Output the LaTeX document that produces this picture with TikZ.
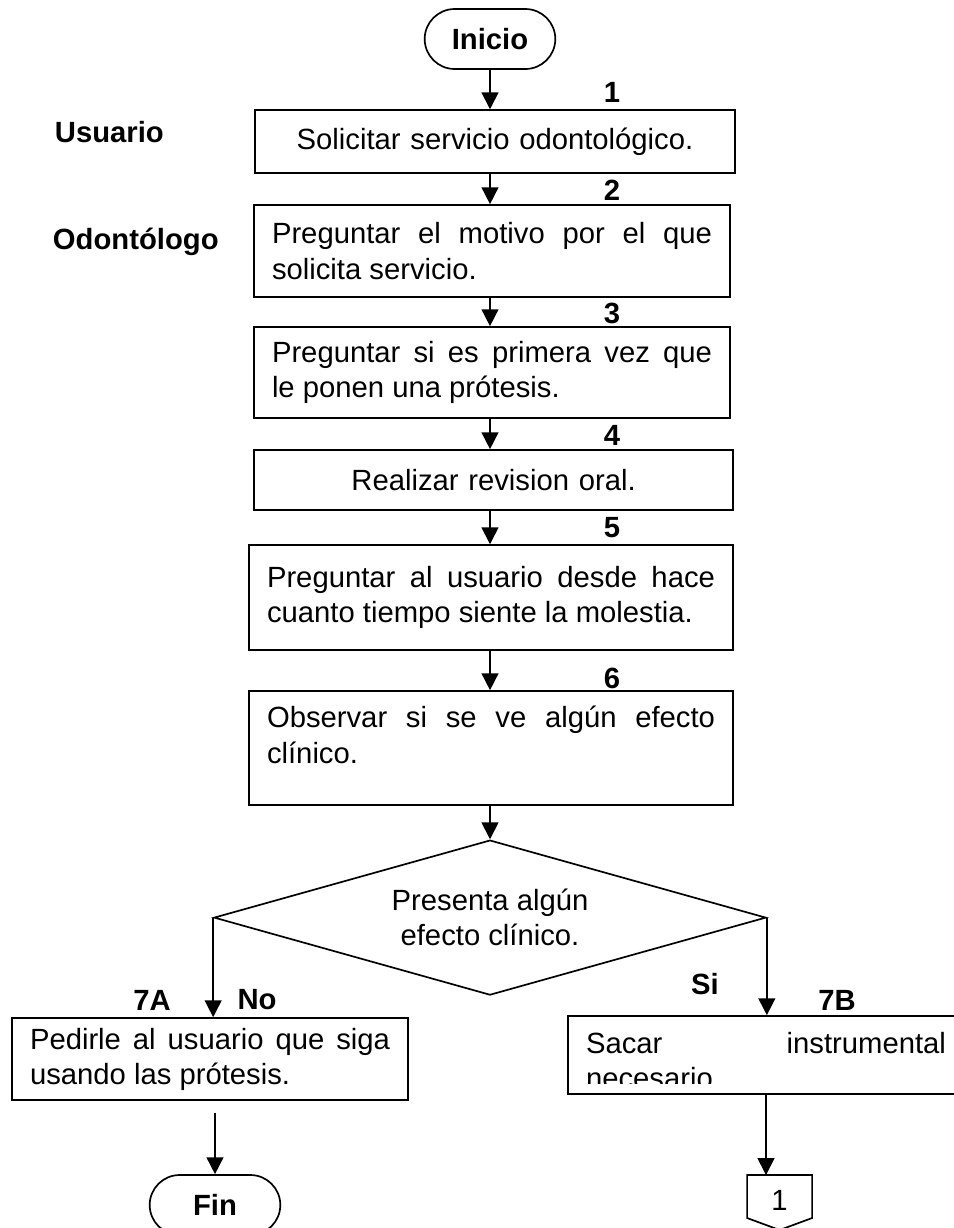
\documentclass[tikz,border=0pt]{standalone}
\usepackage{fontspec}
\setmainfont{Liberation Sans}
\usetikzlibrary{shapes,arrows.meta}
\hyphenpenalty=10000
\exhyphenpenalty=10000

\begin{document}
\begin{tikzpicture}[
  every node/.style={font=\fontsize{20.8}{25}\selectfont},
  caja/.style={draw, line width=1.2pt, inner xsep=0.45cm, inner ysep=0pt, align=justify},
  terminal/.style={draw, line width=1.2pt, rounded rectangle, minimum width=3.5cm, minimum height=1.5cm, font=\fontsize{20.8}{25}\selectfont\bfseries},
  paso/.style={font=\fontsize{20.8}{25}\selectfont\bfseries},
  flecha/.style={line width=1.2pt, -{Triangle[length=0.42cm,width=0.42cm]}}
]
\useasboundingbox (0,0) rectangle (23.85,-30.7);
\clip (0,0) rectangle (23.85,-30.7);

\node[terminal] (inicio) at (12.25,-0.975) {Inicio};

\node[paso, anchor=west] (usuario) at (1.25,-3.3) {Usuario};
\node[paso, anchor=west] (odontologo) at (1.2,-6.05) {Odontólogo};

\node[paso] (n1) at (15.3,-2.3) {1};
\node[caja, align=center, text width=11.1cm, minimum height=1.575cm] (solicitar) at (12.375,-3.54) {Solicitar servicio odontológico.};

\node[paso] (n2) at (15.3,-4.75) {2};
\node[caja, text width=11cm, minimum height=2.3cm] (motivo) at (12.3,-6.275) {Preguntar el motivo por el que\linebreak solicita servicio.};

\node[paso] (n3) at (15.3,-7.825) {3};
\node[caja, text width=11cm, minimum height=2.275cm] (primera) at (12.3,-9.3125) {Preguntar si es primera vez que\linebreak le ponen una prótesis.};

\node[paso] (n4) at (15.3,-10.875) {4};
\node[caja, align=center, text width=11.075cm, minimum height=1.5cm] (revision) at (12.34,-12.0) {Realizar revision oral.};

\node[paso] (n5) at (15.3,-13.2) {5};
\node[caja, text width=11.2cm, minimum height=2.625cm] (tiempo) at (12.275,-14.94) {Preguntar al usuario desde hace\linebreak cuanto tiempo siente la molestia.};

\node[paso] (n6) at (15.3,-16.95) {6};
\node[caja, text width=11.2cm, minimum height=2.85cm] (observar) at (12.275,-18.7) {};
\node[caja, draw=none, text width=11.2cm] (obstxt) at ([yshift=0.33cm]observar.center) {Observar si se ve algún efecto\linebreak clínico.};

\draw[flecha] (inicio.south) -- (inicio.south |- solicitar.north);
\draw[flecha] (inicio.south |- solicitar.south) -- (inicio.south |- motivo.north);
\draw[flecha] (inicio.south |- motivo.south) -- (inicio.south |- primera.north);
\draw[flecha] (inicio.south |- primera.south) -- (inicio.south |- revision.north);
\draw[flecha] (inicio.south |- revision.south) -- (inicio.south |- tiempo.north);
\draw[flecha] (inicio.south |- tiempo.south) -- (inicio.south |- observar.north);

\node[diamond, aspect=3.5, draw, line width=1.2pt, align=center, inner sep=0pt, minimum width=13.8cm, minimum height=3.875cm] (efecto) at (12.25,-22.94) {Presenta algún\\ efecto clínico.};
\draw[flecha] (inicio.south |- observar.south) -- (efecto.north);

\node[paso] (n7a) at (3.8,-25.0) {7A};
\node[paso] (no) at (6.425,-25.0) {No};
\node[paso] (si) at (17.625,-24.6) {Si};
\node[paso] (n7b) at (20.925,-25.0) {7B};

\node[caja, text width=9cm, minimum height=2.05cm] (pedir) at (5.25,-26.475) {Pedirle al usuario que siga\linebreak usando las prótesis.};
\node[caja, text width=9cm, minimum height=1.95cm] (sacar) at (19.15,-26.375) {};
\begin{scope}
\clip (sacar.north west) rectangle ([yshift=0.275cm]sacar.south east);
\node[caja, draw=none, text width=9cm, anchor=north] (sacartxt) at ([yshift=-0.4cm]sacar.north) {Sacar instrumental\linebreak necesario};
\end{scope}

\draw[flecha] (efecto.west) -- (efecto.west |- pedir.north);
\draw[flecha] (efecto.east) -- (efecto.east |- sacar.north);

\node[terminal] (fin) at (5.375,-30.125) {Fin};
\draw[flecha] (fin.north |- pedir.south) ++(0,-0.3) -- (fin.north);

\node[] (conector) at (19.49,-30.0) {1};
\coordinate (contop) at ([yshift=0.625cm]conector.center);
\draw[line width=1.2pt] ([shift={(-0.8125,0.625)}]conector.center) -- ([shift={(0.8125,0.625)}]conector.center) -- ([shift={(0.8125,-0.45)}]conector.center) -- ([shift={(0,-0.75)}]conector.center) -- ([shift={(-0.8125,-0.45)}]conector.center) -- cycle;
\draw[flecha] (sacar.south) -- (sacar.south |- contop);

\end{tikzpicture}
\end{document}
